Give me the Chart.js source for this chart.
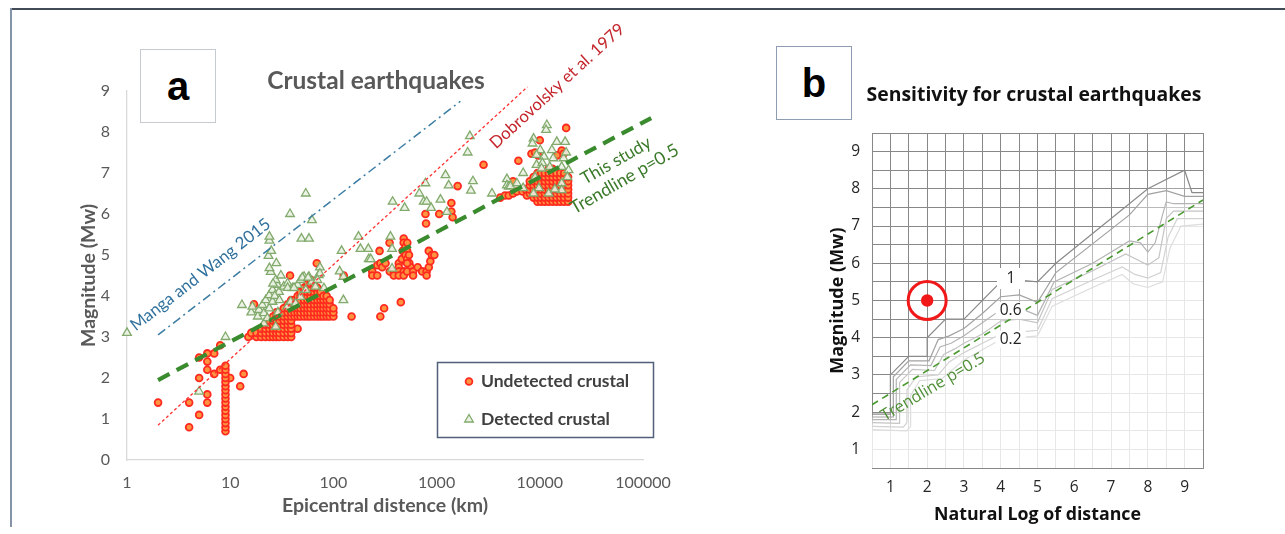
<!DOCTYPE html>
<html>
<head>
<meta charset="utf-8">
<script src="https://cdn.jsdelivr.net/npm/chart.js@4.4.1/dist/chart.umd.min.js"></script>
<style>
  html, body { margin: 0; padding: 0; background: #fff; }
  body { position: relative; width: 1285px; height: 534px; overflow: hidden; }
  .rule-top { position: absolute; left: 10px; top: 8px; width: 1275px; height: 2px; background: #434c56; }
  .rule-left { position: absolute; left: 10px; top: 8px; width: 2px; height: 519px; background: #8493a6; }
  canvas { position: absolute; top: 0; }
  #chartA { left: 0; }
  #chartB { left: 740px; }
  .tag { position: absolute; box-sizing: border-box; display: flex; align-items: center; justify-content: center;
         font-family: 'Liberation Sans', Arial, sans-serif; font-weight: bold; font-size: 40px; color: #000; background: #fff; }
  #tagA { left: 140px; top: 49px; width: 76px; height: 74px; border: 1px solid #c6cad1; }
  #tagB { left: 776px; top: 46px; width: 76px; height: 74px; border: 1.5px solid #8e9db2; }
  .title { position: absolute; white-space: nowrap; transform: translate(-50%, -50%); font-weight: bold; }
  #titleA { left: 376px; top: 79px; font-family: Lato, sans-serif; font-size: 24.5px; color: #595959; }
  #titleB { left: 1034px; top: 93px; font-family: 'Open Sans', sans-serif; font-size: 19.4px; color: #111; }
</style>
</head>
<body>
<div class="rule-top"></div>
<div class="rule-left"></div>
<canvas id="chartA" width="700" height="534"></canvas>
<canvas id="chartB" width="545" height="534"></canvas>
<div class="tag" id="tagA">a</div>
<div class="tag" id="tagB">b</div>
<div class="title" id="titleA">Crustal earthquakes</div>
<div class="title" id="titleB">Sensitivity for crustal earthquakes</div>
<script>
// ---- panel a: distance (km) vs magnitude ----
const distanceTicks = [1, 10, 100, 1000, 10000, 100000];
const magnitudeTicks = [0, 1, 2, 3, 4, 5, 6, 7, 8, 9];

// undetected crustal events, single points [km, Mw]
const undetectedPts = [
  [2,1.4],[4,1.4],[4,0.8],[5,2.5],[5,2.0],[5,1.1],[6,2.6],[6,2.4],[6,2.2],[6,1.6],[6,1.4],[7,2.6],[7,2.1],
  [8,2.8],[8,2.2],[10,2.0],[12.5,1.8],[13.5,2.1],[15,3.0],[16,3.1],[17,3.8],[38,4.5],[69,4.8],[45,3.2],
  [126,4.5],[150,3.5],[285,3.5],[310,3.7],[450,3.85],
  [238,4.6],[238,4.5],[266,4.5],[266,4.75],[285,4.8],[297,4.7],[320,4.8],[352,4.6],[350,5.3],[280,5.1],
  [385,4.6],[385,4.5],[430,4.8],[430,4.7],[430,4.6],[430,4.5],[460,4.9],[470,5.1],[480,5.4],[480,5.3],
  [500,5.2],[518,5.1],[500,5.0],[518,4.9],[545,4.8],[560,4.7],[480,4.6],[480,4.5],[518,4.8],[518,4.6],
  [520,5.3],[540,5.0],[592,4.6],[592,4.5],[656,4.7],[725,4.6],[800,4.6],[800,4.5],[840,4.7],[870,4.85],
  [840,5.1],[900,5.0],[950,5.0],
  [780,6.0],[790,5.77],[1060,6.0],[1390,6.27],[1390,6.06],[1430,5.92],[1600,6.68],[2850,7.2],
  [4140,6.4],[4600,6.45],[5000,6.45],[5500,6.8],[5500,6.5],[6000,6.55],[6200,7.3],[6800,6.55],[7300,6.6],
  [7500,6.45],[8300,7.47],[9000,7.5],[9600,7.43],[10000,7.8],[14700,7.43],[16300,7.55],[17000,7.47],[18000,8.1]
];

// undetected events stacked at one distance: [km, [Mw...]]
const undetectedColumns = [
  [9, [0.7,0.8,0.9,1.0,1.1,1.2,1.3,1.4,1.5,1.6,1.7,1.8,1.9,2.0,2.1,2.2,2.3]],
  [18, [3.0,3.1]],
  [20, [3.0,3.1,3.2]],
  [22, [3.0,3.1,3.2,3.3]],
  [24, [3.0,3.1,3.2,3.3,3.4]],
  [26, [3.0,3.1,3.2,3.3,3.4,3.5]],
  [28, [3.0,3.1,3.2,3.3,3.4,3.5,3.6]],
  [30, [3.0,3.1,3.2,3.3,3.4,3.5,3.6]],
  [33, [3.0,3.1,3.2,3.3,3.4,3.5,3.6,3.7]],
  [36, [3.0,3.1,3.2,3.3,3.4,3.5,3.6,3.7,3.8]],
  [39, [3.0,3.1,3.2,3.3,3.4,3.5,3.6,3.7,3.8,3.9]],
  [42, [3.5,3.6,3.7,3.8,3.9]],
  [45, [3.5,3.6,3.7,3.8,3.9,4.0]],
  [48, [3.5,3.6,3.7,3.8,3.9,4.0,4.1]],
  [52, [3.5,3.6,3.7,3.8,3.9,4.0,4.1,4.2]],
  [56, [3.5,3.6,3.7,3.8,3.9,4.0,4.1,4.2,4.3]],
  [60, [3.5,3.6,3.7,3.8,3.9,4.0,4.1,4.2,4.3,4.4]],
  [65, [3.5,3.6,3.7,3.8,3.9,4.0,4.1,4.2,4.3]],
  [70, [3.5,3.6,3.7,3.8,3.9,4.0,4.1,4.2]],
  [75, [3.5,3.6,3.7,3.8,3.9,4.0,4.1]],
  [80, [3.5,3.6,3.7,3.8,3.9,4.0]],
  [86, [3.5,3.6,3.7,3.8,3.9,4.0]],
  [92, [3.5,3.6,3.7,3.8,3.9]],
  [100, [3.5,3.6,3.7]],
  [8000, [6.5,6.6,6.7,6.8]],
  [8700, [6.4,6.5,6.6,6.7,6.8,6.9]],
  [9500, [6.3,6.4,6.5,6.6,6.7,6.8,6.9,7.0]],
  [10300, [6.3,6.4,6.5,6.6,6.7,6.8,6.9,7.0]],
  [11200, [6.3,6.4,6.5,6.6,6.7,6.8,6.9,7.0]],
  [12200, [6.3,6.4,6.5,6.6,6.7,6.8,6.9,7.0,7.1]],
  [13300, [6.3,6.4,6.5,6.6,6.7,6.8,6.9,7.0,7.1]],
  [14500, [6.3,6.4,6.5,6.6,6.7,6.8,6.9,7.0]],
  [15800, [6.3,6.4,6.5,6.6,6.7,6.8,6.9,7.0]],
  [17200, [6.3,6.4,6.5,6.6,6.7,6.8,6.9,7.0]],
  [18800, [6.3,6.4,6.5,6.6,6.7,6.8,6.9]]
];

// detected crustal events [km, Mw]
const detectedPts = [
  [1,3.1],[5,1.67],[9,3.0],[13,3.78],[16,3.6],[16.4,3.74],[18.5,3.5],[19,3.66],
  [20.5,3.78],[21.2,3.58],[21.2,3.33],[22.1,3.9],[22.9,3.46],[23.9,3.7],[23.9,4.02],[25.7,3.86],
  [25.7,4.15],[27.6,3.25],[28.7,4.27],[27.6,4.39],[24.7,4.59],[29.7,4.1],[24,4.68],[28,4.8],
  [23.5,4.98],[25,5.1],[24,5.35],[24,5.45],[26,4.3],[27,4.0],[29,3.6],[30,3.9],[31,4.5],
  [33,4.23],[36,4.31],[35.8,3.74],[38.5,3.86],[40,4.19],[43,3.82],[45,4.27],[48,4.39],[48,3.98],
  [52,4.47],[54,4.15],[58,4.47],[62,4.35],[67,4.23],[72,4.51],[81,4.19],[74,4.7],[74,4.55],
  [70,4.39],[36,4.2],[41.5,4.2],[50,4.45],[57,4.45],
  [38,6.0],[54,6.5],[62,5.85],[49,5.4],[58,5.4],
  [115,4.6],[125,4.47],[125,3.9],[120,5.1],[175,5.45],[183,5.15],[218,5.15],[220,4.9],[230,4.9],
  [357,5.45],[370,5.15],[370,4.67],[375,6.3],[490,6.15],[680,6.5],[750,6.3],[800,6.3],[780,6.75],[885,6.15],
  [1090,6.35],[1220,6.95],[1310,6.7],[1260,6.05],[2100,7.9],[2000,7.5],[2250,6.8],[2150,6.57],
  [3440,6.5],[4800,6.85],[4800,6.7],[5000,6.67],[5200,6.68],[6000,6.75],[6900,6.63],[6900,7.0],
  [11700,8.17],[11500,8.05],[8700,7.84],[8500,7.72],[14600,7.76],[17600,7.76],[10100,7.56],[13100,7.56],
  [9300,7.44],[11000,7.4],[13500,7.36],[17000,7.36],[9300,7.2],[10600,7.24],[10400,7.11],[12500,7.15],
  [16300,7.15],[19000,7.07],[8700,6.5],[16300,6.75],[16300,6.58],[9800,6.63],[12200,6.5],[18000,7.5],
  [18500,6.9],[9000,6.9],[14000,6.6]
];

// reference lines [km, Mw]
const mangaWang2015 = [[2, 3.05], [1700, 8.75]];
const dobrovolsky1979 = [[2, 0.85], [7600, 9.1]];
const trendThisStudy = [[2, 1.95], [120000, 8.34]];

// ---- panel b: ln(distance) vs magnitude ----
const lnRange = [0.5, 9.5];
const lnTicks = [1, 2, 3, 4, 5, 6, 7, 8, 9];
const contour100 = [[0.5,1.95],[1.0,1.95],[1.0,3.0],[1.5,3.5],[2.0,3.5],[2.0,4.0],[2.5,4.5],[3.0,4.5],[4.0,5.5],[4.5,5.55],[5.0,5.5],[5.5,6.0],[8.0,8.0],[9.0,8.5],[9.2,7.9],[9.5,7.9]];
const contour080 = [[0.5,1.87],[1.08,1.87],[1.08,2.95],[1.5,3.38],[2.05,3.38],[2.3,3.95],[2.6,4.05],[3.0,4.25],[3.5,4.65],[4.0,5.1],[4.5,5.15],[5.0,4.95],[5.5,5.75],[7.5,7.3],[8.0,7.85],[8.5,7.95],[9.0,7.8],[9.5,7.8]];
const contour060 = [[0.5,1.8],[1.16,1.8],[1.16,2.88],[1.55,3.27],[2.1,3.25],[2.35,3.75],[2.65,3.85],[3.0,4.05],[3.5,4.4],[4.0,4.75],[4.5,4.8],[5.0,4.6],[5.45,5.5],[6.5,6.0],[7.5,6.6],[7.8,6.55],[8.0,6.3],[8.2,6.55],[8.4,7.3],[8.5,7.65],[8.7,7.6],[9.5,7.6]];
const contour040 = [[0.5,1.72],[1.25,1.7],[1.25,2.8],[1.6,3.15],[2.2,3.12],[2.45,3.55],[2.75,3.7],[3.0,3.85],[3.5,4.1],[4.0,4.45],[4.5,4.5],[5.0,4.4],[5.4,5.3],[6.5,5.8],[7.4,6.25],[7.7,6.1],[8.0,5.95],[8.3,6.15],[8.5,7.2],[8.7,7.4],[9.5,7.4]];
const contour020 = [[0.5,1.62],[1.35,1.6],[1.45,1.72],[1.45,2.6],[1.7,2.95],[2.3,3.0],[2.6,3.35],[3.0,3.6],[3.5,3.85],[4.0,4.1],[4.5,4.15],[5.0,4.2],[5.4,5.05],[6.5,5.55],[7.3,5.9],[7.65,5.7],[8.0,5.6],[8.35,5.75],[8.55,6.7],[8.8,7.2],[9.5,7.2]];
const contour010 = [[0.5,1.53],[1.45,1.5],[1.55,1.62],[1.55,2.45],[1.8,2.85],[2.4,2.9],[3.0,3.4],[4.0,3.95],[5.0,4.05],[5.4,4.85],[6.5,5.35],[7.3,5.7],[7.6,5.45],[8.0,5.35],[8.4,5.5],[8.6,6.4],[8.9,7.0],[9.5,7.05]];
const trendLnP05 = [[0.5, 2.2], [9.5, 7.7]];
const sampleEvent = [[2, 5]];

const xy = pts => pts.map(([x, y]) => ({x, y}));

// free text placed in data coordinates, optionally turned along a line
function notes(id, items) {
  return {
    id,
    afterDraw(chart) {
      const {ctx, scales: {x, y}} = chart;
      items.forEach(n => {
        let angle = 0;
        if (n.along) {
          const a = n.along[0], b = n.along[n.along.length - 1];
          angle = Math.atan2(y.getPixelForValue(b[1]) - y.getPixelForValue(a[1]),
                             x.getPixelForValue(b[0]) - x.getPixelForValue(a[0]));
        }
        angle += (n.tilt || 0) * Math.PI / 180;
        ctx.save();
        ctx.translate(x.getPixelForValue(n.at[0]), y.getPixelForValue(n.at[1]));
        ctx.rotate(angle);
        let size = n.size;
        ctx.font = `${n.weight || 'normal'} ${size}px ${n.family}`;
        if (n.len) {
          size = size * n.len / ctx.measureText(n.text).width;
          ctx.font = `${n.weight || 'normal'} ${size}px ${n.family}`;
        }
        if (n.box) {
          ctx.fillStyle = '#fff';
          ctx.fillRect(-n.box[0] / 2, -n.box[1] / 2, n.box[0], n.box[1]);
        }
        ctx.fillStyle = n.color;
        ctx.textAlign = 'center';
        ctx.textBaseline = 'middle';
        ctx.fillText(n.text, 0, 0);
        ctx.restore();
      });
    }
  };
}

const undetectedData = xy(undetectedPts);
undetectedColumns.forEach(([km, mags]) => mags.forEach(m => undetectedData.push({x: km, y: m})));

const legendA = {
  id: 'legendA',
  afterDraw(chart) {
    const {ctx} = chart;
    ctx.save();
    ctx.strokeStyle = '#50607a';
    ctx.lineWidth = 1.5;
    ctx.strokeRect(437.5, 362.5, 216, 75);
    const rows = [[1, 381.5, 'Undetected crustal'], [0, 419.5, 'Detected crustal']];
    rows.forEach(([i, yy, label]) => {
      const ds = chart.data.datasets[i];
      ctx.fillStyle = ds.pointBackgroundColor;
      ctx.strokeStyle = ds.pointBorderColor;
      ctx.lineWidth = ds.pointBorderWidth;
      Chart.helpers.drawPoint(ctx, {pointStyle: ds.pointStyle, radius: ds.pointRadius, borderWidth: ds.pointBorderWidth, rotation: 0}, 469, yy);
      ctx.fillStyle = '#404040';
      ctx.font = 'bold 17.5px Lato';
      ctx.textAlign = 'left';
      ctx.textBaseline = 'middle';
      ctx.fillText(label, 481, yy);
    });
    ctx.restore();
  }
};

new Chart(document.getElementById('chartA'), {
  type: 'line',
  data: {
    datasets: [
      { label: 'Detected crustal', data: xy(detectedPts), showLine: false, order: 1, clip: false,
        pointStyle: 'triangle', pointRadius: 5, pointBorderWidth: 1.3,
        pointBorderColor: '#82aa6c', pointBackgroundColor: 'rgba(234,242,227,0.9)' },
      { label: 'Undetected crustal', data: undetectedData, showLine: false, order: 2, clip: false,
        pointStyle: 'circle', pointRadius: 3.4, pointBorderWidth: 1.8,
        pointBorderColor: '#ff2a1f', pointBackgroundColor: '#ff9340' },
      { label: 'Manga and Wang 2015', data: xy(mangaWang2015), order: 0, clip: false, pointRadius: 0,
        borderColor: '#3a7ca3', borderWidth: 1.5, borderDash: [9, 4, 2, 4] },
      { label: 'Dobrovolsky et al. 1979', data: xy(dobrovolsky1979), order: 0, clip: false, pointRadius: 0,
        borderColor: '#ff3030', borderWidth: 1.3, borderDash: [3, 2.5] },
      { label: 'This study', data: xy(trendThisStudy), order: 0, clip: false, pointRadius: 0,
        borderColor: '#3a8a2e', borderWidth: 4.2, borderDash: [13, 8] }
    ]
  },
  options: {
    responsive: false,
    animation: false,
    events: [],
    layout: { padding: { left: 77, right: 57, top: 91, bottom: 17 } },
    plugins: { legend: { display: false }, tooltip: { enabled: false } },
    scales: {
      x: {
        type: 'logarithmic',
        min: distanceTicks[0],
        max: distanceTicks[distanceTicks.length - 1],
        afterBuildTicks: s => { s.ticks = distanceTicks.map(value => ({value})); },
        afterFit: s => { s.height = 57; },
        grid: { display: false, drawTicks: false },
        border: { display: true, color: '#d9d9d9', width: 1.3 },
        ticks: { padding: 13, color: '#595959', font: { family: 'Lato', size: 16 },
                 autoSkip: false, maxRotation: 0, callback: v => String(v) },
        title: { display: true, text: 'Epicentral distence (km)', color: '#595959', padding: 0,
                 font: { family: 'Lato', size: 19.5, weight: 'bold' } }
      },
      y: {
        min: magnitudeTicks[0],
        max: magnitudeTicks[magnitudeTicks.length - 1],
        afterBuildTicks: s => { s.ticks = magnitudeTicks.map(value => ({value})); },
        afterFit: s => { s.width = 50; },
        grid: { display: false, drawTicks: false },
        border: { display: true, color: '#d9d9d9', width: 1.3 },
        ticks: { padding: 17, color: '#595959', font: { family: 'Lato', size: 16 } },
        title: { display: true, text: 'Magnitude (Mw)', color: '#595959', padding: 0,
                 font: { family: 'Lato', size: 19.5, weight: 'bold' } }
      }
    }
  },
  plugins: [legendA, notes('notesA', [
    { text: 'Manga and Wang 2015', at: [5.14, 4.52], along: mangaWang2015, len: 172,
      size: 16, family: 'Lato', color: '#2f709c' },
    { text: 'Dobrovolsky et al. 1979', at: [14700, 9.12], along: dobrovolsky1979, len: 176,
      size: 16, family: 'Lato', color: '#c4262c' },
    { text: 'This study', at: [54800, 7.3], along: trendThisStudy, tilt: -2, len: 78,
      size: 16, family: 'Lato', color: '#3b7a2a' },
    { text: 'Trendline p=0.5', at: [66200, 6.85], along: trendThisStudy, tilt: -2, len: 122,
      size: 16, family: 'Lato', color: '#3b7a2a' }
  ])]
});

// ---- panel b ----
const contourSets = [contour100, contour080, contour060, contour040, contour020, contour010];
const contourColors = ['#8a8a8a', '#a2a2a2', '#b4b4b4', '#c4c4c4', '#d2d2d2', '#dddddd'];

new Chart(document.getElementById('chartB'), {
  type: 'line',
  data: {
    datasets: [
      ...contourSets.map((pts, i) => ({
        data: xy(pts), order: 20 - i, pointRadius: 0, tension: 0,
        borderColor: contourColors[i], borderWidth: 1.2,
        fill: 'start', backgroundColor: 'rgba(255,255,255,0.24)'
      })),
      { data: xy(trendLnP05), order: 3, pointRadius: 0, borderColor: '#4a9a30', borderWidth: 1.6, borderDash: [7, 5] },
      { data: xy(sampleEvent), order: 2, showLine: false, pointRadius: 19, pointBorderWidth: 3,
        pointBorderColor: '#f01818', pointBackgroundColor: 'rgba(0,0,0,0)' },
      { data: xy(sampleEvent), order: 1, showLine: false, pointRadius: 6.2, pointBorderWidth: 0,
        pointBackgroundColor: '#f01818' }
    ]
  },
  options: {
    responsive: false,
    animation: false,
    events: [],
    layout: { padding: { left: 87, right: 82, top: 133, bottom: 8 } },
    plugins: { legend: { display: false }, tooltip: { enabled: false } },
    scales: {
      x: {
        type: 'linear', min: lnRange[0], max: lnRange[1],
        afterFit: s => { s.height = 58; },
        grid: { color: '#888888', lineWidth: 1, drawTicks: false },
        border: { display: true, color: '#888888' },
        ticks: { stepSize: 0.5, autoSkip: false, maxRotation: 0, padding: 10, color: '#262626',
                 font: { family: 'Open Sans', size: 15.5 }, callback: v => lnTicks.includes(v) ? v : '' },
        title: { display: true, text: 'Natural Log of distance', color: '#111', padding: 0,
                 font: { family: 'Open Sans', size: 17.8, weight: 'bold' } }
      },
      y: {
        min: lnRange[0], max: lnRange[1],
        afterFit: s => { s.width = 45; },
        grid: { color: '#888888', lineWidth: 1, drawTicks: false },
        border: { display: true, color: '#888888' },
        ticks: { stepSize: 0.5, autoSkip: false, padding: 12, color: '#262626',
                 font: { family: 'Open Sans', size: 15.5 }, callback: v => lnTicks.includes(v) ? v : '' },
        title: { display: true, text: 'Magnitude (Mw)', color: '#111', padding: 0,
                 font: { family: 'Open Sans', size: 18, weight: 'bold' } }
      }
    }
  },
  plugins: [notes('notesB', [
    { text: '1', at: [4.28, 5.59], box: [28, 21], size: 15.5, family: 'Open Sans', color: '#222' },
    { text: '0.6', at: [4.27, 4.73], box: [30, 17], size: 15.5, family: 'Open Sans', color: '#222' },
    { text: '0.2', at: [4.27, 3.96], box: [30, 17], size: 15.5, family: 'Open Sans', color: '#222' },
    { text: 'Trendline p=0.5', at: [2.16, 2.67], along: trendLnP05, tilt: 1, len: 118,
      size: 15, family: 'Open Sans', color: '#4e8f35' }
  ])]
});
</script>
</body>
</html>
